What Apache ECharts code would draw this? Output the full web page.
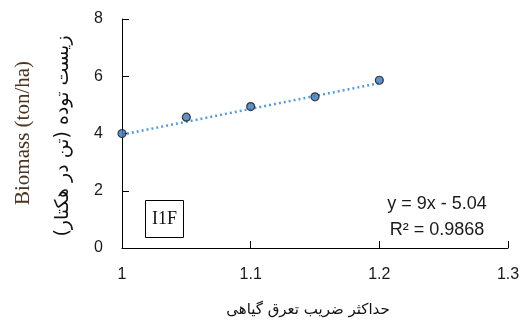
<!DOCTYPE html>
<html>
<head>
<meta charset="utf-8">
<script src="https://cdn.jsdelivr.net/npm/echarts@6/dist/echarts.min.js"></script>
<style>html,body{margin:0;padding:0;background:#fff}#c{width:525px;height:328px}</style>
</head>
<body>
<div id="c"></div>
<script>
// Data
var etMax = [1, 1.05, 1.1, 1.15, 1.2];
var biomass = [4.0, 4.57, 4.94, 5.28, 5.86];
// Trendline y = 9x - 5.04 endpoints (as printed on the chart)
var trendX = [1, 1.2];
var trendY = [3.96, 5.76];
var xTicks = [1, 1.1, 1.2, 1.3];
var yTicks = [0, 2, 4, 6, 8];
var eqText = 'y = 9x - 5.04';
var r2Text = 'R² = 0.9868';
var panelLabel = 'I1F';
var xName = 'حداکثر ضریب تعرق گیاهی';
var yNameEn = 'Biomass (ton/ha)';
var yNameFa = 'زیست توده (تن در هکتار)';

var chart = echarts.init(document.getElementById('c'));
var axisFont = {fontFamily: 'Liberation Sans, sans-serif', fontSize: 16, color: '#1a1a1a'};
chart.setOption({
  animation: false,
  grid: {left: 122, right: 17, top: 19, bottom: 80},
  xAxis: {
    type: 'value', min: 1, max: 1.3, interval: 0.1,
    axisLine: {lineStyle: {color: '#000', width: 1}},
    axisTick: {inside: true, length: 7, lineStyle: {color: '#000'}},
    splitLine: {show: false},
    axisLabel: Object.assign({margin: 19, formatter: function(v){ return String(+v.toFixed(1)); }}, axisFont),
    name: xName, nameLocation: 'middle', nameGap: 55,
    nameTextStyle: {fontFamily: 'DejaVu Sans, Noto Sans, sans-serif', fontSize: 15, color: '#111', padding: [0, 14, 0, 0]}
  },
  yAxis: {
    type: 'value', min: 0, max: 8, interval: 2,
    axisLine: {show: true, lineStyle: {color: '#000', width: 1}},
    axisTick: {show: true, inside: true, length: 7, lineStyle: {color: '#000'}},
    splitLine: {show: false},
    axisLabel: Object.assign({margin: 19}, axisFont)
  },
  series: [
    {
      type: 'line', data: trendX.map(function(x, i){ return [x, trendY[i]]; }),
      symbol: 'none', lineStyle: {color: '#5b9bd5', width: 2.5, type: [2, 3]}, z: 2
    },
    {
      type: 'scatter', data: etMax.map(function(x, i){ return [x, biomass[i]]; }),
      symbol: 'circle', symbolSize: 8,
      itemStyle: {color: '#3a74b8', borderColor: '#1a1a1a', borderWidth: 1.2}, z: 3
    }
  ],
  graphic: [
    {type: 'text', x: 23, y: 133, rotation: Math.PI / 2,
     style: {text: yNameEn, align: 'center', verticalAlign: 'middle', fill: '#4a3422',
             font: '21px "Liberation Serif", serif'}},
    {type: 'text', x: 63, y: 136, rotation: Math.PI / 2,
     style: {text: yNameFa, align: 'center', verticalAlign: 'middle', fill: '#111',
             font: '19px "DejaVu Sans", "Noto Sans", sans-serif'}},
    {type: 'rect', shape: {x: 145.5, y: 200.5, width: 38, height: 37},
     style: {fill: '#fff', stroke: '#000', lineWidth: 1}},
    {type: 'text', x: 164.5, y: 219.5,
     style: {text: panelLabel, align: 'center', verticalAlign: 'middle', fill: '#111',
             font: '18px "Liberation Serif", serif'}},
    {type: 'text', x: 437, y: 204,
     style: {text: eqText, align: 'center', verticalAlign: 'middle', fill: '#1a1a1a',
             font: '18px "Liberation Sans", sans-serif'}},
    {type: 'text', x: 437, y: 230,
     style: {text: r2Text, align: 'center', verticalAlign: 'middle', fill: '#1a1a1a',
             font: '18px "Liberation Sans", sans-serif'}}
  ]
});
</script>
</body>
</html>
